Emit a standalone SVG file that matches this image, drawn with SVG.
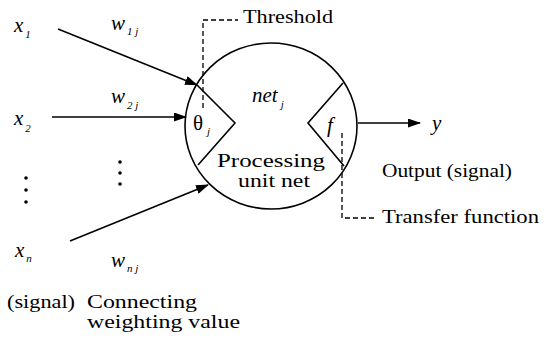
<svg xmlns="http://www.w3.org/2000/svg" width="553" height="343" viewBox="0 0 553 343" font-family="Liberation Serif, DejaVu Serif, serif">
<style>
text{font-family:'Liberation Serif','DejaVu Serif',serif}
.t{font-size:19px;fill:#000}
.v{font-size:21px;font-style:italic;fill:#000}
.s{font-size:11px}
.ln{stroke:#000;stroke-width:1.6;fill:none}
.d{stroke:#000;stroke-width:1.3;fill:none;stroke-dasharray:5,3}
</style>
<defs>
<marker id="ah" markerWidth="13" markerHeight="9" refX="12" refY="4.5" orient="auto" markerUnits="userSpaceOnUse">
<path d="M0,0 L13,4.5 L0,9 Z" fill="#000"/>
</marker>
</defs>
<g id="unit">
<ellipse class="ln" cx="271" cy="126" rx="86" ry="83"/>
<polyline class="ln" points="197,85 235,123 198,165"/>
<polyline class="ln" points="343,83 308,123 344,166"/>
<text class="v" x="252" y="102">net<tspan class="s" dx="3" dy="6">j</tspan></text>
<text x="193" y="130" font-size="21">θ<tspan font-size="11" font-style="italic" dx="4" dy="5">j</tspan></text>
<text class="v" x="327" y="132">f</text>
<text class="t" x="217" y="167" textLength="108" lengthAdjust="spacingAndGlyphs">Processing</text>
<text class="t" x="238" y="187" textLength="72" lengthAdjust="spacingAndGlyphs">unit net</text>
</g>
<g id="inputs">
<text class="v" x="14" y="32">x<tspan class="s" dx="2" dy="6">1</tspan></text>
<text class="v" x="14" y="125">x<tspan class="s" dx="2" dy="7">2</tspan></text>
<text class="v" x="15" y="257">x<tspan class="s" dx="2" dy="5">n</tspan></text>
<circle cx="26" cy="178" r="1.8"/>
<circle cx="26" cy="190" r="1.8"/>
<circle cx="26" cy="202" r="1.8"/>
</g>
<g id="weights">
<text class="v" x="111" y="30">w<tspan class="s" dx="2" dy="5">1 j</tspan></text>
<text class="v" x="111" y="103">w<tspan class="s" dx="2" dy="6">2 j</tspan></text>
<text class="v" x="111" y="267">w<tspan class="s" dx="2" dy="5">n j</tspan></text>
<circle cx="120" cy="162" r="1.8"/>
<circle cx="120" cy="173" r="1.8"/>
<circle cx="120" cy="184" r="1.8"/>
</g>
<g id="output">
<text class="v" x="432" y="130">y</text>
<text class="t" x="382" y="177" textLength="130" lengthAdjust="spacingAndGlyphs">Output (signal)</text>
</g>
<g id="labels">
<text class="t" x="243" y="23" textLength="90" lengthAdjust="spacingAndGlyphs">Threshold</text>
<text class="t" x="382" y="223" textLength="157" lengthAdjust="spacingAndGlyphs">Transfer function</text>
<text class="t" x="7" y="308" textLength="68" lengthAdjust="spacingAndGlyphs">(signal)</text>
<text class="t" x="87" y="308" textLength="110" lengthAdjust="spacingAndGlyphs">Connecting</text>
<text class="t" x="87" y="328" textLength="153" lengthAdjust="spacingAndGlyphs">weighting value</text>
</g>
<g id="connectors">
<line class="ln" x1="58" y1="29" x2="197" y2="85" marker-end="url(#ah)"/>
<line class="ln" x1="52" y1="117" x2="186" y2="117" marker-end="url(#ah)"/>
<line class="ln" x1="70" y1="241" x2="208" y2="185" marker-end="url(#ah)"/>
<line class="ln" x1="358" y1="123" x2="420" y2="123" marker-end="url(#ah)"/>
<polyline class="d" points="203,108 203,20 238,20"/>
<polyline class="d" points="342,133 342,218 374,218"/>
</g>
</svg>
